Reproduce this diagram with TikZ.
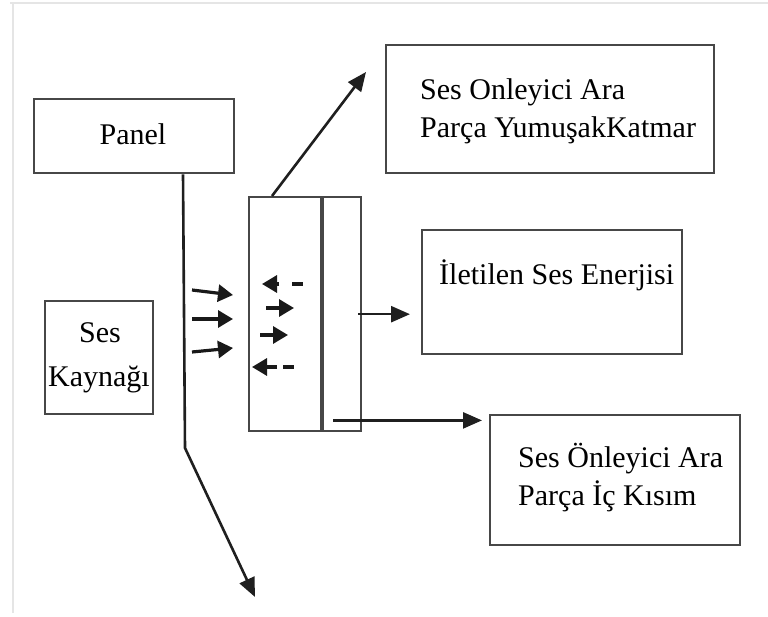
\documentclass[tikz,border=0pt]{standalone}
\usepackage{fontspec}
\setmainfont{Liberation Serif}
\usetikzlibrary{arrows.meta}
\begin{document}
\begin{tikzpicture}[x=1pt,y=-1pt,
  box/.style={draw=black!72, line width=2.4pt, inner sep=0pt, anchor=north west, rectangle},
  lbl/.style={inner sep=0pt, font=\fontsize{30}{38}\selectfont, text=black},
  conn/.style={draw=black!88, line width=2.6pt, -{Triangle[length=19pt,width=16pt]}},
  wave/.style={draw=black!90, line width=3.2pt, -{Triangle[length=15pt,width=17pt]}},
  dashbit/.style={draw=black!90, line width=3.2pt},
  frameline/.style={draw=black!10, line width=2pt}
]
\useasboundingbox (0,0) rectangle (768,617);

% outer frame
\draw[frameline] (10,3) -- (768,3);
\draw[frameline] (13,3) -- (13,613);

% boxes
\node[box, minimum width=200pt, minimum height=74pt]  (panel)  at (33,98)  {};
\node[box, minimum width=328pt, minimum height=128pt] (soft)   at (385,44) {};
\node[box, minimum width=260pt, minimum height=124pt] (trans)  at (421,229) {};
\node[box, minimum width=250pt, minimum height=130pt] (inner)  at (489,414) {};
\node[box, minimum width=108pt, minimum height=113pt] (source) at (44,300) {};
\node[box, minimum width=72pt,  minimum height=234pt] (layerA) at (248,196) {};
\node[box, minimum width=38pt,  minimum height=234pt] (layerB) at (322,196) {};

% labels
\node[lbl, anchor=base] (tpanel) at (133,145) {Panel};
\node[lbl, anchor=base west] (tsoft1) at (420,100) {Ses Onleyici Ara};
\node[lbl, anchor=base west] (tsoft2) at (420,138) {Parça YumuşakKatmar};
\node[lbl, anchor=base west] (ttrans) at (439,285) {İletilen Ses Enerjisi};
\node[lbl, anchor=base west] (tinner1) at (518,467) {Ses Önleyici Ara};
\node[lbl, anchor=base west] (tinner2) at (518,505) {Parça İç Kısım};
\node[lbl, anchor=base] (tsrc1) at (100,343) {Ses};
\node[lbl, anchor=base] (tsrc2) at (99,386) {Kaynağı};

% free ends
\coordinate (bend)  at (185,448);
\coordinate (down)  at (255,597);
\coordinate (upend) at (366,72);
\coordinate (lowstart) at ([xshift=11pt,yshift=12pt]layerB.south west);

% connectors
\draw[conn] ([xshift=150pt]panel.south west) -- (bend) -- (down);
\draw[conn] ([xshift=24pt]layerA.north west) -- (upend);
\draw[conn, shorten >=11pt] ([xshift=-4pt]layerB.east) -- (layerB.east -| trans.west);
\draw[conn, shorten >=7pt] (lowstart) -- (lowstart -| inner.west);

% incoming sound
\coordinate (in1a) at (192,290); \coordinate (in1b) at (233,295);
\coordinate (in2a) at (192,319); \coordinate (in2b) at (233,319);
\coordinate (in3a) at (192,352); \coordinate (in3b) at (233,348);
\draw[wave] (in1a) -- (in1b);
\draw[wave] (in2a) -- (in2b);
\draw[wave] (in3a) -- (in3b);

% sound inside the panel
\coordinate (r1a) at (266,308); \coordinate (r1b) at (294,308);
\coordinate (r2a) at (260,335); \coordinate (r2b) at (288,335);
\draw[wave] (r1a) -- (r1b);
\draw[wave] (r2a) -- (r2b);

\coordinate (l1a) at (279,284); \coordinate (l1b) at (262,284);
\coordinate (d1a) at (292,284); \coordinate (d1b) at (303,284);
\coordinate (l2a) at (277,367); \coordinate (l2b) at (252,367);
\coordinate (d2a) at (283,367); \coordinate (d2b) at (294,367);
\draw[wave] (l1a) -- (l1b);
\draw[dashbit] (d1a) -- (d1b);
\draw[wave] (l2a) -- (l2b);
\draw[dashbit] (d2a) -- (d2b);
\end{tikzpicture}
\end{document}
